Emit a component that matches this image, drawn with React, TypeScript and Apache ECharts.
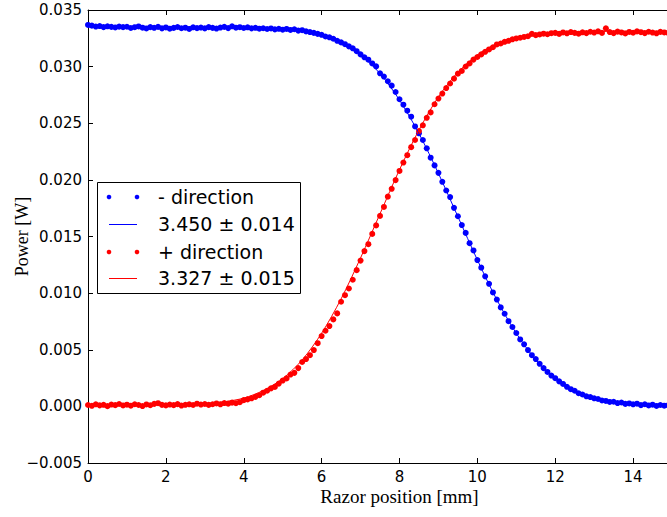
import React, { useEffect, useRef } from "react";
import * as echarts from "echarts";

const positions = [
  0.0, 0.1, 0.2, 0.3, 0.4, 0.5, 0.6, 0.7, 0.8, 0.9,
  1.0, 1.1, 1.2, 1.3, 1.4, 1.5, 1.6, 1.7, 1.8, 1.9,
  2.0, 2.1, 2.2, 2.3, 2.4, 2.5, 2.6, 2.7, 2.8, 2.9,
  3.0, 3.1, 3.2, 3.3, 3.4, 3.5, 3.6, 3.7, 3.8, 3.9,
  4.0, 4.1, 4.2, 4.3, 4.4, 4.5, 4.6, 4.7, 4.8, 4.9,
  5.0, 5.1, 5.2, 5.3, 5.4, 5.5, 5.6, 5.7, 5.8, 5.9,
  6.0, 6.1, 6.2, 6.3, 6.4, 6.5, 6.6, 6.7, 6.8, 6.9,
  7.0, 7.1, 7.2, 7.3, 7.4, 7.5, 7.6, 7.7, 7.8, 7.9,
  8.0, 8.1, 8.2, 8.3, 8.4, 8.5, 8.6, 8.7, 8.8, 8.9,
  9.0, 9.1, 9.2, 9.3, 9.4, 9.5, 9.6, 9.7, 9.8, 9.9,
  10.0, 10.1, 10.2, 10.3, 10.4, 10.5, 10.6, 10.7, 10.8, 10.9,
  11.0, 11.1, 11.2, 11.3, 11.4, 11.5, 11.6, 11.7, 11.8, 11.9,
  12.0, 12.1, 12.2, 12.3, 12.4, 12.5, 12.6, 12.7, 12.8, 12.9,
  13.0, 13.1, 13.2, 13.3, 13.4, 13.5, 13.6, 13.7, 13.8, 13.9,
  14.0, 14.1, 14.2, 14.3, 14.4, 14.5, 14.6, 14.7, 14.8, 14.9,
  15.0,
];

const minusDirection = [
  0.03368, 0.03362, 0.03354, 0.03358, 0.03349, 0.03356, 0.03351, 0.03346, 0.03353, 0.03349,
  0.03352, 0.03341, 0.03348, 0.03355, 0.03344, 0.03337, 0.03349, 0.03343, 0.03351, 0.03338,
  0.03346, 0.03335, 0.03342, 0.0335, 0.03339, 0.03344, 0.03333, 0.03347, 0.0334, 0.03345,
  0.03338, 0.03349, 0.03342, 0.03336, 0.03345, 0.03351, 0.0334, 0.03356, 0.03344, 0.03348,
  0.03341, 0.03347, 0.03338, 0.03343, 0.03335, 0.03339, 0.03332, 0.03337, 0.03329, 0.03334,
  0.03326, 0.03333, 0.03324, 0.0333, 0.03318, 0.03322, 0.03311, 0.03305, 0.03298, 0.03289,
  0.03281, 0.03266, 0.03259, 0.03246, 0.03228, 0.03214, 0.03198, 0.03179, 0.03162, 0.03136,
  0.03108, 0.03082, 0.03061, 0.03028, 0.03002, 0.02941, 0.02912, 0.02871, 0.02832, 0.02776,
  0.02712, 0.02664, 0.02611, 0.02558, 0.02472, 0.02411, 0.02352, 0.02279, 0.02196, 0.02128,
  0.02062, 0.01983, 0.01906, 0.01848, 0.01753, 0.01679, 0.01601, 0.01532, 0.01441, 0.01377,
  0.01292, 0.01225, 0.01148, 0.01082, 0.01006, 0.00943, 0.00874, 0.00818, 0.00752, 0.00701,
  0.00648, 0.00591, 0.00548, 0.00497, 0.00452, 0.00418, 0.00376, 0.00338, 0.00304, 0.00272,
  0.00249, 0.00221, 0.00198, 0.00173, 0.00152, 0.00138, 0.00116, 0.00105, 0.00089, 0.00082,
  0.00071, 0.00065, 0.00052, 0.00048, 0.00039, 0.00041, 0.00029, 0.00034, 0.00022, 0.00026,
  0.00018, 0.00024, 0.00011, 0.00019, 0.00008, 0.00015, 0.00004, 0.00012, 0.00006, 0.00009,
  0.00003,
];

const plusDirection = [
  0.00012, 0.00005, 0.00018, 0.00009, 0.00014, 0.00002, 0.00016, 0.00011, 0.00021, 0.00008,
  0.00015, 0.00006, 0.00019, 0.00012, 0.00003, 0.00017, 0.0001, 0.00022, 0.00028, 0.00013,
  0.00009, 0.00016, 0.00011, 0.0002, 0.00007, 0.00014, 0.00018, 0.00012, 0.00024, 0.00016,
  0.00021, 0.00013, 0.00019, 0.00026, 0.00018, 0.00029, 0.00024, 0.00033, 0.00028, 0.00037,
  0.00055, 0.00062, 0.00071, 0.00084, 0.00098, 0.00121, 0.00138, 0.00159, 0.00172, 0.00201,
  0.00228, 0.00247, 0.00281, 0.00296, 0.00338, 0.00392, 0.00418, 0.00452, 0.00497, 0.00558,
  0.00621, 0.00668, 0.00709, 0.00768, 0.00821, 0.00924, 0.00982, 0.01041, 0.01118, 0.01203,
  0.01287, 0.01371, 0.01432, 0.01523, 0.01598, 0.01682, 0.01761, 0.01852, 0.01921, 0.01998,
  0.02079, 0.02153, 0.02218, 0.02289, 0.02352, 0.02431, 0.02482, 0.02548, 0.02596, 0.02668,
  0.02718, 0.02762, 0.02811, 0.02851, 0.02894, 0.02938, 0.02962, 0.03001, 0.03028, 0.03062,
  0.03085, 0.03108, 0.03131, 0.03152, 0.03171, 0.03196, 0.03204, 0.03219, 0.03228, 0.03241,
  0.03249, 0.03255, 0.03262, 0.03268, 0.03289, 0.03278, 0.03284, 0.03291, 0.03286, 0.03295,
  0.03298, 0.03289, 0.03302, 0.03294, 0.03305, 0.03298, 0.03291, 0.03303, 0.03296, 0.03308,
  0.03301, 0.03312, 0.03298, 0.03338, 0.03305, 0.03296, 0.03309, 0.03302, 0.03293, 0.03306,
  0.03299, 0.03311, 0.03304, 0.03296, 0.03308, 0.03301, 0.03294, 0.03307, 0.03302, 0.03298,
  0.03305,
];

const fitPositions = [
  0, 0.5, 1, 1.5, 2, 2.5, 3, 3.5, 4, 4.5, 5, 5.5, 6, 6.5, 7, 7.5,
  8, 8.5, 9, 9.5, 10, 10.5, 11, 11.5, 12, 12.5, 13, 13.5, 14, 14.5, 15, 15.5,
];

const minusFit = [
  0.0335, 0.0335, 0.0335, 0.0335, 0.0335, 0.0335, 0.0335, 0.03349, 0.03348, 0.03344,
  0.03335, 0.03317, 0.03278, 0.03213, 0.03104, 0.02938, 0.02705, 0.02409, 0.02057, 0.01675,
  0.01293, 0.00941, 0.00645, 0.00412, 0.00246, 0.00137, 0.00073, 0.00037, 0.00019, 0.0001,
  0.00006, 0.00004,
];

const plusFit = [
  0.00012, 0.00012, 0.00012, 0.00013, 0.00014, 0.00017, 0.00024, 0.00041, 0.00073, 0.0014,
  0.00245, 0.0041, 0.00646, 0.00949, 0.01311, 0.01701, 0.0209, 0.0244, 0.02733, 0.02951,
  0.03103, 0.03203, 0.03257, 0.03287, 0.03302, 0.03308, 0.0331, 0.03312, 0.03312, 0.03312,
  0.03312, 0.03312,
];

const legendLabels = ["- direction", "3.450 \u00b1 0.014", "+ direction", "3.327 \u00b1 0.015"];
const xAxisTitle = "Razor position [mm]";
const yAxisTitle = "Power [W]";

const BLUE = "#0000ff";
const RED = "#ff0000";
const SANS = "DejaVu Sans";
const SERIF = "Liberation Serif";

export default function App() {
  const ref = useRef<HTMLDivElement>(null);

  useEffect(() => {
    document.body.style.margin = "0";
    const chart = echarts.init(ref.current!, null, { renderer: "svg" });

    const pairs = (xs: number[], ys: number[]) => xs.map((x, i) => [x, ys[i]]);

    const yFmt = (v: number) => {
      const s = Math.abs(v).toFixed(3);
      return v < -1e-9 ? "\u2212" + s : s;
    };

    const lx0 = 97, ly0 = 182, lw = 203, lh = 111;
    const rowsY = [197, 224, 252, 278];
    const mk1 = 109, mk2 = 137, textX = 158;

    const legendElements: any[] = [
      {
        type: "rect",
        shape: { x: lx0 + 0.5, y: ly0 + 0.5, width: lw, height: lh },
        style: { fill: "#ffffff", stroke: "#000000", lineWidth: 1 },
        z: 100,
      },
    ];
    const colors = [BLUE, BLUE, RED, RED];
    legendLabels.forEach((label, i) => {
      const y = rowsY[i];
      if (i % 2 === 0) {
        legendElements.push(
          { type: "circle", shape: { cx: mk1, cy: y, r: 2.3 }, style: { fill: colors[i] }, z: 101 },
          { type: "circle", shape: { cx: mk2, cy: y, r: 2.3 }, style: { fill: colors[i] }, z: 101 }
        );
      } else {
        legendElements.push({
          type: "line",
          shape: { x1: mk1, y1: y + 0.5, x2: mk2, y2: y + 0.5 },
          style: { stroke: colors[i], lineWidth: 1 },
          z: 101,
        });
      }
      legendElements.push({
        type: "text",
        x: textX,
        y: y,
        style: {
          text: label,
          fill: "#000000",
          font: `19px '${SANS}'`,
          verticalAlign: "middle",
          align: "left",
        },
        z: 101,
      });
    });

    const tickStyle = { inside: true, length: 5, lineStyle: { color: "#000", width: 1 } };

    chart.setOption({
      animation: false,
      backgroundColor: "#ffffff",
      grid: {
        left: 88,
        top: 10,
        right: 0,
        bottom: 54,
        containLabel: false,
        outerBoundsMode: "none",
      },
      xAxis: [
        {
          type: "value",
          min: 0,
          max: 16,
          interval: 2,
          position: "bottom",
          name: xAxisTitle,
          nameLocation: "middle",
          nameGap: 24,
          nameMoveOverlap: false,
          nameTextStyle: { fontFamily: SERIF, fontSize: 19, color: "#000" },
          axisLine: { show: true, onZero: false, lineStyle: { color: "#000", width: 1 } },
          axisTick: tickStyle,
          axisLabel: {
            color: "#000",
            fontFamily: SANS,
            fontSize: 15,
            margin: 6,
            showMaxLabel: false,
          },
          splitLine: { show: false },
        },
        {
          type: "value",
          min: 0,
          max: 16,
          interval: 2,
          position: "top",
          axisLine: { show: true, onZero: false, lineStyle: { color: "#000", width: 1 } },
          axisTick: tickStyle,
          axisLabel: { show: false },
          splitLine: { show: false },
        },
      ],
      yAxis: [
        {
          type: "value",
          min: -0.005,
          max: 0.035,
          interval: 0.005,
          name: yAxisTitle,
          nameLocation: "middle",
          nameGap: 57,
          nameMoveOverlap: false,
          nameTextStyle: { fontFamily: SERIF, fontSize: 18, color: "#000" },
          axisLine: { show: true, onZero: false, lineStyle: { color: "#000", width: 1 } },
          axisTick: tickStyle,
          axisLabel: { color: "#000", fontFamily: SANS, fontSize: 15, margin: 6, formatter: yFmt },
          splitLine: { show: false },
        },
      ],
      series: [
        {
          name: legendLabels[0],
          type: "scatter",
          data: pairs(positions, minusDirection),
          symbol: "circle",
          symbolSize: 6,
          itemStyle: { color: BLUE, opacity: 1 },
        },
        {
          name: legendLabels[1],
          type: "line",
          data: pairs(fitPositions, minusFit),
          smooth: 0.3,
          showSymbol: false,
          lineStyle: { color: BLUE, width: 1 },
          itemStyle: { color: BLUE },
        },
        {
          name: legendLabels[2],
          type: "scatter",
          data: pairs(positions, plusDirection),
          symbol: "circle",
          symbolSize: 6,
          itemStyle: { color: RED, opacity: 1 },
        },
        {
          name: legendLabels[3],
          type: "line",
          data: pairs(fitPositions, plusFit),
          smooth: 0.3,
          showSymbol: false,
          lineStyle: { color: RED, width: 1 },
          itemStyle: { color: RED },
        },
      ],
      graphic: legendElements,
    });

    return () => chart.dispose();
  }, []);

  return (
    <div
      style={{
        position: "absolute",
        left: 0,
        top: 0,
        width: 667,
        height: 517,
        overflow: "hidden",
        background: "#ffffff",
      }}
    >
      <div ref={ref} style={{ width: 711, height: 517 }} />
    </div>
  );
}
